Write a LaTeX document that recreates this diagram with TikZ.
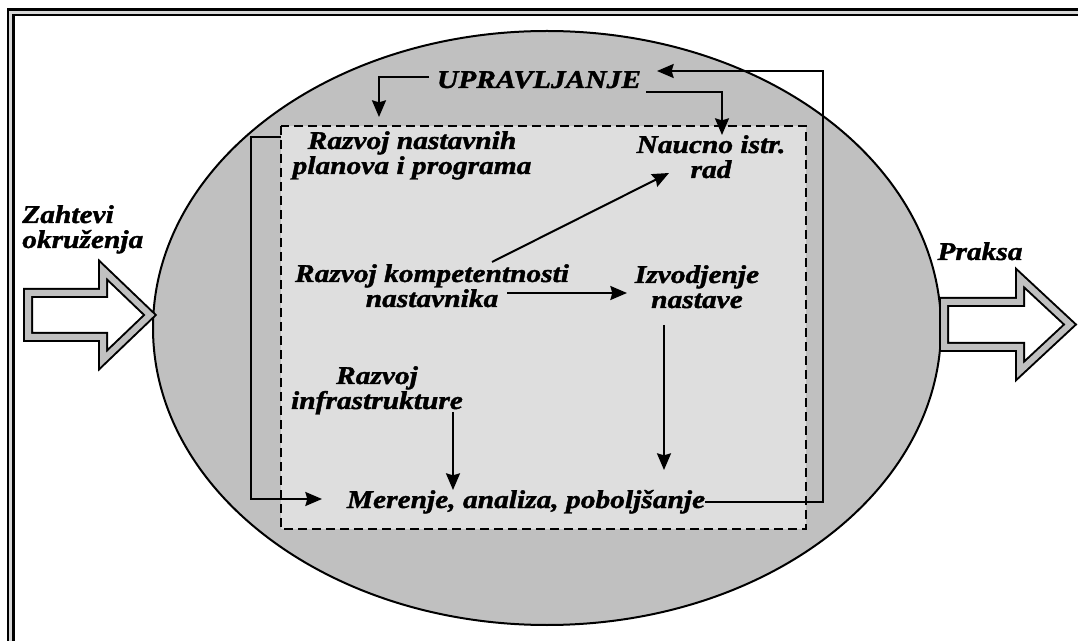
\documentclass[tikz,border=0pt]{standalone}
\usepackage{fontspec}
\setmainfont{Liberation Serif}[FakeStretch=1.15, FakeBold=1.5]
\usetikzlibrary{arrows.meta}
\definecolor{ovalgray}{RGB}{192,192,192}
\definecolor{boxgray}{RGB}{222,222,222}
\definecolor{framegray}{RGB}{215,215,215}
\tikzset{lbl/.style = {inner sep = 0, align = center, anchor = base},
  conn/.style = {line width = 1.5pt, -{Stealth[length = 12.5pt, width = 10.5pt, inset = 1.5pt]}},
  fat/.style = {draw, line width = 1.5pt, double = ovalgray, double distance = 4.5pt, fill = white}}

\begin{document}
\begin{tikzpicture}[x = 0.75pt, y = -0.75pt, font = {\bfseries\itshape\fontsize{19.2}{18.75}\selectfont\lineskiplimit=-20pt\relax}]
          \useasboundingbox (0, 0) rectangle (1078, 641);
          \begin{scope}
            \clip (0, 0) rectangle (1078, 641);
            \draw [line width = 1.9pt, double = framegray, double distance = 2.25pt] (10.8, 12.2) rectangle (1100, 700);
          \end{scope}
          \draw [line width = 1.5pt, fill = ovalgray] (547, 328) ellipse [x radius = 394, y radius = 297];
          \draw [line width = 2pt, dash pattern = on 7pt off 3.5pt, fill = boxgray] (281, 126) rectangle (806, 529);
          \draw [fat] (28, 293) -- (103, 293) -- (103, 270) -- (150, 315) -- (103, 360) -- (103, 337) -- (28, 337) -- cycle;
          \draw [fat] (944, 302) -- (1020, 302) -- (1020, 278) -- (1070, 324.5) -- (1020, 371) -- (1020, 347) -- (944, 347) -- cycle;

          \node (upr) at (539, 88) [lbl] {UPRAVLJANJE};
          \node (plan) at (412, 174) [lbl] {Razvoj nastavnih\\planova i programa};
          \node (nir) at (711, 178) [lbl] {Naucno istr.\\rad};
          \node (komp) at (432, 307) [lbl] {Razvoj kompetentnosti\\nastavnika};
          \node (izv) at (697, 308) [lbl] {Izvodjenje\\nastave};
          \node (infra) at (377, 409) [lbl] {Razvoj\\infrastrukture};
          \node (mer) at (526, 508) [lbl] {Merenje, analiza, poboljšanje};
          \node (zaht) at (22, 248) [lbl, anchor = base west, align = left] {Zahtevi\\okruženja};
          \node (praksa) at (980, 260) [lbl] {Praksa};

          \coordinate (uprl) at (429, 77);
          \coordinate (planin) at (379, 117);
          \coordinate (uprr) at (646, 92);
          \coordinate (nirin) at (722, 135);
          \coordinate (backr) at (823, 71);
          \coordinate (uprin) at (657, 71);
          \coordinate (boxl) at (281, 137);
          \coordinate (backl) at (251, 499);
          \coordinate (merin) at (322, 499);
          \coordinate (kompa) at (492, 262);
          \coordinate (nirb) at (669, 173);
          \coordinate (kompb) at (507, 293);
          \coordinate (izvin) at (627, 293);
          \coordinate (izvout) at (664, 325);
          \coordinate (merb) at (664, 470);
          \coordinate (infraout) at (453, 412);
          \coordinate (merc) at (453, 490);

          \draw [conn] (uprl) -| (planin);
          \draw [conn] (uprr) -| (nirin);
          \draw [conn] (mer.east) -| (backr) -- (uprin);
          \draw [conn] (boxl) -| (backl) -- (merin);
          \draw [conn] (kompa) -- (nirb);
          \draw [conn] (kompb) -- (izvin);
          \draw [conn] (izvout) -- (merb);
          \draw [conn] (infraout) -- (merc);
        \end{tikzpicture}
\end{document}
